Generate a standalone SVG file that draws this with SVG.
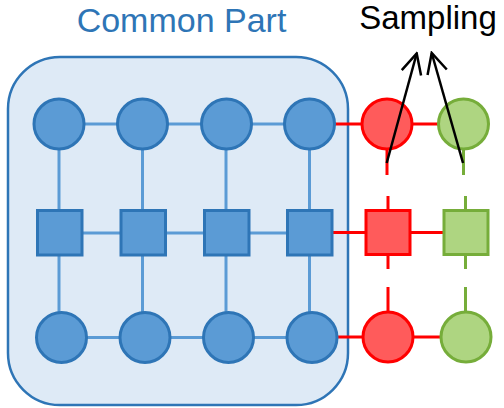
<svg xmlns="http://www.w3.org/2000/svg" width="504" height="408" viewBox="0 0 504 408">
<style>
.lbl{font-family:"Liberation Sans",Arial,sans-serif;text-anchor:middle}
.bn{fill:#5B9BD5;stroke:#2E75B6;stroke-width:3}
.rn{fill:#FF5B5B;stroke:#FF0000;stroke-width:3}
.gn{fill:#AED581;stroke:#76AD3A;stroke-width:3}
.bl{stroke:#5B9BD5;stroke-width:3;fill:none}
.rl{stroke:#FF0000;stroke-width:3;fill:none}
.gl{stroke:#76AD3A;stroke-width:3;fill:none}
.ar{stroke:#000;stroke-width:2.5;fill:none;marker-end:url(#head)}
</style>
<defs>
<marker id="head" markerUnits="userSpaceOnUse" markerWidth="24" markerHeight="24" viewBox="-2 -2 24 24" refX="20" refY="10" orient="auto">
<path d="M0,0 L20,10 L0,20" fill="none" stroke="#000" stroke-width="2.5"/>
</marker>
</defs>
<g id="common-part">
<rect x="8" y="57" width="340" height="348" rx="52" ry="52" fill="#DEEAF6" stroke="#2E75B6" stroke-width="2.5"/>
<text class="lbl" x="181.5" y="31.5" font-size="34" fill="#2E75B6">Common Part</text>
</g>
<g id="sampling-label">
<text class="lbl" x="428" y="29" font-size="33" fill="#000">Sampling</text>
</g>
<g id="connectors">
<path class="bl" d="M59,124 H309.5 M59.5,233 H310 M61.5,337.5 H312 M59,124 V337.5 M142.5,124 V337.5 M226,124 V337.5 M309.5,124 V337.5"/>
<path class="rl" d="M309.5,124 H464 M310,232.5 H466 M312,337 H466"/>
<path class="rl" d="M387,150 V175 M388,196 V211 M388,254 V269 M388,287 V312"/>
<path class="gl" d="M463.5,150 V175 M465.5,196 V211 M465.5,254 V269 M465.5,287 V312"/>
</g>
<g id="n-b1"><circle class="bn" cx="59" cy="124" r="25"/></g>
<g id="n-b2"><circle class="bn" cx="142.5" cy="124" r="25"/></g>
<g id="n-b3"><circle class="bn" cx="226.5" cy="124" r="25"/></g>
<g id="n-b4"><circle class="bn" cx="309.5" cy="124" r="25"/></g>
<g id="n-s1"><rect class="bn" x="37.5" y="210.5" width="44.5" height="44.5"/></g>
<g id="n-s2"><rect class="bn" x="121" y="210.5" width="44.5" height="44.5"/></g>
<g id="n-s3"><rect class="bn" x="204.5" y="210.5" width="44.5" height="44.5"/></g>
<g id="n-s4"><rect class="bn" x="287.5" y="210.5" width="44.5" height="44.5"/></g>
<g id="n-c1"><circle class="bn" cx="61.5" cy="337.5" r="25"/></g>
<g id="n-c2"><circle class="bn" cx="145" cy="337.5" r="25"/></g>
<g id="n-c3"><circle class="bn" cx="228.5" cy="337.5" r="25"/></g>
<g id="n-c4"><circle class="bn" cx="312" cy="337.5" r="25"/></g>
<g id="n-r1"><circle class="rn" cx="387" cy="124" r="25"/></g>
<g id="n-r2"><rect class="rn" x="366" y="210.5" width="44" height="44"/></g>
<g id="n-r3"><circle class="rn" cx="388" cy="337" r="25"/></g>
<g id="n-g1"><circle class="gn" cx="463.5" cy="124" r="25"/></g>
<g id="n-g2"><rect class="gn" x="444" y="210.5" width="44" height="44"/></g>
<g id="n-g3"><circle class="gn" cx="466" cy="337" r="25"/></g>
<g id="arrows">
<path class="ar" d="M386.7,163 L416.7,53.5"/>
<path class="ar" d="M463,163 L431.7,53"/>
</g>
</svg>
